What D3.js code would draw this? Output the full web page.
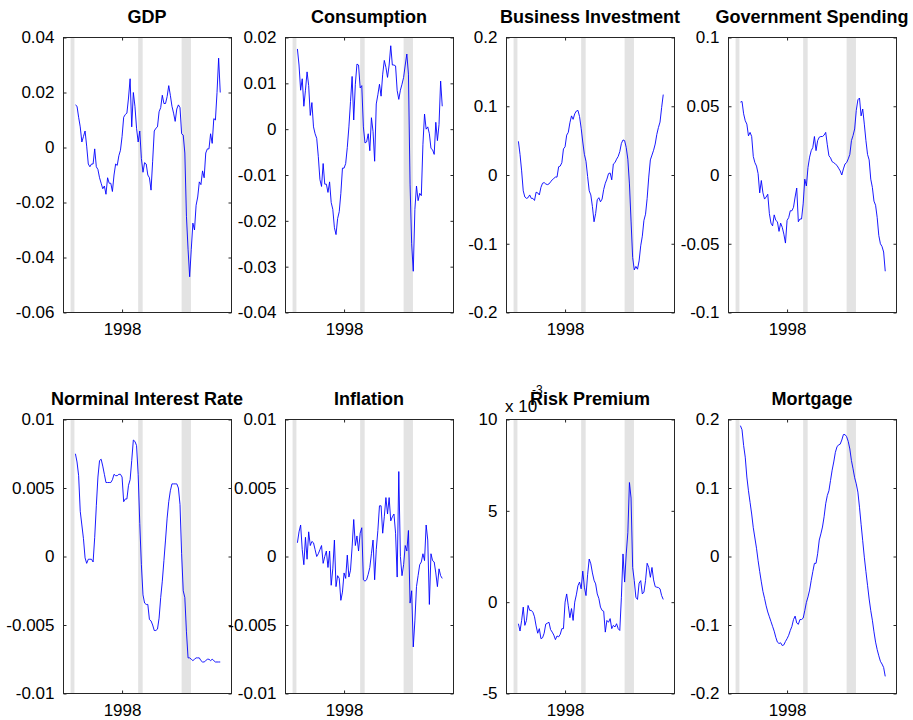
<!DOCTYPE html>
<html>
<head>
<meta charset="utf-8">
<script src="https://cdn.jsdelivr.net/npm/d3@7"></script>
<style>
  html, body { margin: 0; padding: 0; background: #ffffff; }
  svg { display: block; }
  text { font-family: "Liberation Sans", Arial, Helvetica, sans-serif; fill: #000; }
</style>
</head>
<body>
<svg id="fig" width="913" height="720"></svg>
<script>
// Quarterly sample: 1991Q2 .. 2013Q4 (91 observations)
const firstQuarter = 1991.25;
const nObs = 91;
const dates = d3.range(nObs).map(i => firstQuarter + 0.25 * i);

// NBER recession bands (decimal years)
const recessions = [[1990.5, 1991.1], [2001.0, 2001.7], [2007.75, 2009.2]];

// Shared time axis
const xDomain = [1989.4, 2015.5];
const xTickValues = [1998.5];
const xTickLabels = ["1998"];

// Series
const gdp = [0.0155,0.015,0.011,0.0075,0.002,0.004,0.006,0.0005,-0.006,-0.007,
  -0.006,-0.006,-0.0005,-0.007,-0.008,-0.011,-0.013,-0.015,-0.014,-0.017,
  -0.011,-0.013,-0.013,-0.016,-0.010,-0.006,-0.0065,-0.003,-0.001,0.004,
  0.011,0.012,0.0125,0.018,0.025,0.0075,0.020,0.015,0.007,0.002,
  0.006,-0.004,-0.009,-0.0055,-0.006,-0.010,-0.011,-0.0155,-0.005,0.006,
  0.007,0.0075,0.013,0.0145,0.019,0.016,0.016,0.0185,0.0225,0.019,
  0.015,0.0125,0.0095,0.014,0.0155,0.0145,0.005,0.0045,-0.002,-0.025,
  -0.037,-0.047,-0.037,-0.0275,-0.030,-0.021,-0.018,-0.0125,-0.0135,-0.0085,
  -0.011,-0.002,-0.0005,-0.0005,0.005,0.0015,0.0105,0.010,0.020,0.0325,0.020];

const consumption = [0.0175,0.014,0.0085,0.011,0.005,0.0085,0.0125,0.0095,0.003,0.0058,
  0.0005,-0.001,-0.002,-0.006,-0.011,-0.0125,-0.0075,-0.012,-0.012,-0.0138,
  -0.0115,-0.016,-0.0175,-0.0215,-0.023,-0.0195,-0.018,-0.014,-0.0085,-0.0085,
  -0.0075,-0.004,0.0005,0.006,0.0115,0.002,0.0098,0.0142,0.014,0.009,
  0.0095,0.0005,-0.003,-0.0028,-0.001,-0.0047,0.0025,-0.0005,-0.007,0.0055,
  0.0075,0.0098,0.0072,0.012,0.015,0.0135,0.0113,0.014,0.0182,0.014,
  0.014,0.0138,0.0084,0.0065,0.0085,0.0098,0.0113,0.014,0.0164,0.012,
  -0.012,-0.025,-0.031,-0.0175,-0.0124,-0.0156,-0.014,-0.0145,-0.0033,0.0033,
  0.0,0.0005,-0.001,-0.0042,-0.0045,-0.0055,0.0015,-0.0025,0.001,0.0105,0.005];

const investment = [0.049,0.03,0.006,-0.023,-0.032,-0.034,-0.033,-0.029,-0.034,-0.034,
  -0.037,-0.025,-0.026,-0.029,-0.018,-0.012,-0.011,-0.013,-0.014,-0.013,
  -0.010,-0.007,-0.005,-0.003,-0.003,0.012,0.013,0.018,0.038,0.041,
  0.058,0.062,0.076,0.086,0.081,0.089,0.093,0.094,0.085,0.068,
  0.048,0.030,0.020,-0.002,-0.023,-0.029,-0.046,-0.068,-0.056,-0.036,
  -0.033,-0.039,-0.035,-0.021,-0.012,-0.006,0.002,0.003,-0.007,0.016,
  0.018,0.023,0.027,0.034,0.046,0.051,0.050,0.040,0.023,-0.013,
  -0.067,-0.120,-0.138,-0.133,-0.137,-0.125,-0.103,-0.089,-0.066,-0.057,
  -0.034,-0.003,0.022,0.029,0.036,0.045,0.059,0.069,0.077,0.098,0.117];

const government = [0.053,0.0535,0.0445,0.0395,0.037,0.0285,0.031,0.028,0.0135,0.009,
  0.0065,0.001,-0.013,-0.004,-0.013,-0.0175,-0.016,-0.014,-0.028,-0.035,
  -0.037,-0.029,-0.033,-0.034,-0.041,-0.035,-0.038,-0.043,-0.0495,-0.033,
  -0.031,-0.026,-0.026,-0.0235,-0.016,-0.0095,-0.034,-0.032,-0.032,-0.021,
  -0.003,-0.008,0.0055,0.013,0.0177,0.020,0.028,0.0177,0.025,0.0275,
  0.028,0.028,0.029,0.031,0.022,0.014,0.0125,0.0097,0.009,0.008,
  0.007,0.005,0.003,0.0,0.0044,0.008,0.009,0.0117,0.015,0.025,
  0.0287,0.0335,0.047,0.0547,0.056,0.043,0.048,0.037,0.025,0.015,
  0.011,-0.003,-0.009,-0.019,-0.022,-0.031,-0.044,-0.050,-0.052,-0.056,-0.070];

const interestRate = [0.0075,0.0069,0.0059,0.0033,0.0023,0.0013,-0.0001,-0.0005,-0.0002,-0.0002,
  -0.0002,-0.0004,0.0014,0.0037,0.0058,0.0070,0.0071,0.0066,0.0060,0.0054,
  0.0054,0.0054,0.0054,0.0056,0.0060,0.0059,0.0059,0.0060,0.0060,0.0058,
  0.0040,0.0042,0.0042,0.0052,0.0056,0.0070,0.0085,0.0084,0.0081,0.0060,
  0.0024,-0.0006,-0.0028,-0.0034,-0.0035,-0.0035,-0.0046,-0.0047,-0.0050,-0.0054,
  -0.0054,-0.0053,-0.0045,-0.0030,-0.0018,-0.0003,0.0012,0.0028,0.0040,0.0048,
  0.0053,0.0053,0.0053,0.0053,0.0050,0.0038,0.0002,-0.0025,-0.0030,-0.0055,
  -0.0074,-0.0074,-0.0075,-0.0076,-0.0075,-0.0074,-0.0074,-0.0074,-0.0076,-0.0077,
  -0.0077,-0.0076,-0.0075,-0.0075,-0.0076,-0.0075,-0.0076,-0.0077,-0.0077,-0.0077,-0.0077];

const inflation = [0.0010,0.0018,0.0023,0.0005,-0.0006,0.0014,-0.0002,0.0018,0.0008,0.0011,
  0.0010,0.0005,0.0,0.0002,0.0005,0.0008,-0.0005,0.0,0.0004,-0.0008,
  0.0004,-0.0021,-0.0009,0.0012,-0.0022,-0.0014,-0.0016,-0.0032,-0.0026,-0.0012,
  -0.0016,0.0001,-0.0015,-0.0010,0.0007,0.0027,0.0008,0.0015,0.0004,0.0017,
  0.0021,-0.0017,-0.0018,-0.0017,-0.0013,-0.0008,0.0002,0.0012,-0.0017,0.0005,
  0.0019,0.0037,0.0037,0.0017,0.0029,0.0043,0.0031,0.0043,0.0026,0.0029,
  0.0031,0.0017,-0.0015,0.0062,0.0,-0.0014,-0.0006,0.0008,0.0004,0.0019,
  -0.0034,-0.0025,-0.0066,-0.0047,-0.0022,-0.0014,-0.0006,-0.0004,0.0002,-0.0003,
  0.0023,0.0012,-0.0035,0.0002,-0.0003,-0.0004,-0.0012,-0.0022,-0.0009,-0.0014,-0.0016];

// Risk premium, in units of 10^-3
const riskPremium = [-1.18,-1.58,-1.0,-0.27,-1.27,-1.0,-0.18,-0.45,-0.45,-0.55,
  -0.8,-1.3,-1.7,-1.45,-2.0,-1.95,-1.7,-1.2,-1.15,-1.1,
  -1.5,-1.64,-1.8,-2.05,-1.85,-1.9,-1.76,-1.45,-1.45,0.0,
  0.45,-0.2,-0.85,-0.35,-1.0,0.0,0.4,0.9,1.1,0.73,
  1.7,0.82,0.36,1.5,2.36,2.1,1.6,1.2,1.0,0.45,
  0.2,-0.27,-0.45,-0.5,-1.64,-1.0,-1.1,-0.9,-1.45,-1.27,
  -1.36,-1.18,-1.45,-1.55,0.27,2.64,1.1,2.64,3.8,6.55,
  5.7,1.9,1.18,0.27,0.15,1.04,1.18,0.45,0.55,1.18,
  2.13,1.9,1.36,1.9,1.22,0.85,0.82,0.8,0.73,0.36,0.15];

const mortgage = [0.191,0.185,0.162,0.145,0.116,0.096,0.079,0.062,0.042,0.027,
  0.012,-0.006,-0.022,-0.037,-0.051,-0.061,-0.072,-0.081,-0.088,-0.095,
  -0.102,-0.109,-0.118,-0.125,-0.127,-0.126,-0.130,-0.129,-0.124,-0.120,
  -0.115,-0.108,-0.102,-0.092,-0.087,-0.097,-0.099,-0.092,-0.092,-0.090,
  -0.079,-0.067,-0.059,-0.049,-0.035,-0.022,-0.010,-0.010,0.004,0.024,
  0.033,0.043,0.058,0.077,0.089,0.096,0.111,0.126,0.138,0.152,
  0.160,0.163,0.164,0.170,0.178,0.178,0.175,0.168,0.157,0.140,
  0.128,0.115,0.106,0.094,0.072,0.047,0.023,-0.001,-0.022,-0.042,
  -0.062,-0.079,-0.093,-0.110,-0.125,-0.136,-0.145,-0.153,-0.157,-0.162,-0.175];

// Panel titles, y ranges and tick labels
const titles = ["GDP", "Consumption", "Business Investment", "Government Spending",
  "Norminal Interest Rate", "Inflation", "Risk Premium", "Mortgage"];
const seriesList = [gdp, consumption, investment, government,
  interestRate, inflation, riskPremium, mortgage];
const yDomains = [[-0.06, 0.04], [-0.04, 0.02], [-0.2, 0.2], [-0.1, 0.1],
  [-0.01, 0.01], [-0.01, 0.01], [-5, 10], [-0.2, 0.2]];
const yTickValues = [
  [-0.06, -0.04, -0.02, 0, 0.02, 0.04],
  [-0.04, -0.03, -0.02, -0.01, 0, 0.01, 0.02],
  [-0.2, -0.1, 0, 0.1, 0.2],
  [-0.1, -0.05, 0, 0.05, 0.1],
  [-0.01, -0.005, 0, 0.005, 0.01],
  [-0.01, -0.005, 0, 0.005, 0.01],
  [-5, 0, 5, 10],
  [-0.2, -0.1, 0, 0.1, 0.2]
];
const yTickLabels = [
  ["-0.06", "-0.04", "-0.02", "0", "0.02", "0.04"],
  ["-0.04", "-0.03", "-0.02", "-0.01", "0", "0.01", "0.02"],
  ["-0.2", "-0.1", "0", "0.1", "0.2"],
  ["-0.1", "-0.05", "0", "0.05", "0.1"],
  ["-0.01", "-0.005", "0", "0.005", "0.01"],
  ["-0.01", "-0.005", "0", "0.005", "0.01"],
  ["-5", "0", "5", "10"],
  ["-0.2", "-0.1", "0", "0.1", "0.2"]
];
const exponentLabels = [null, null, null, null, null, null, "-3", null];

// Figure layout (2 rows x 4 columns)
const colLeft = [63, 285, 506, 728];
const rowTop = [37, 419];
const rowHeight = [275, 274];
const axW = 168;
const tickLen = 3;

const svg = d3.select("#fig");

titles.forEach((title, k) => {
  const row = Math.floor(k / 4), col = k % 4;
  const left = colLeft[col] + 0.5, top = rowTop[row] + 0.5;
  const h = rowHeight[row];

  const x = d3.scaleLinear().domain(xDomain).range([0, axW]);
  const y = d3.scaleLinear().domain(yDomains[k]).range([h, 0]);

  const g = svg.append("g").attr("transform", `translate(${left},${top})`);

  // recession shading
  g.selectAll("rect.rec").data(recessions).enter().append("rect")
    .attr("class", "rec")
    .attr("x", d => x(d[0]))
    .attr("width", d => x(d[1]) - x(d[0]))
    .attr("y", 0).attr("height", h)
    .attr("fill", "#e3e3e3");

  // series line
  const line = d3.line().x((d, i) => x(dates[i])).y(d => y(d));
  g.append("path").datum(seriesList[k])
    .attr("d", line)
    .attr("fill", "none")
    .attr("stroke", "#0000ff")
    .attr("stroke-width", 0.9)
    .attr("stroke-linejoin", "round");

  // y axis (left, ticks pointing inward) and mirrored right ticks
  const yAxis = d3.axisLeft(y).tickValues(yTickValues[k])
    .tickFormat((d, i) => yTickLabels[k][i])
    .tickSizeInner(-tickLen).tickSizeOuter(0).tickPadding(9);
  const ya = g.append("g").call(yAxis);
  ya.select(".domain").remove();
  ya.selectAll("line").attr("stroke", "#262626");
  ya.selectAll("text").attr("font-size", 17).attr("fill", "#000");

  const yR = d3.axisRight(y).tickValues(yTickValues[k]).tickFormat("")
    .tickSizeInner(-tickLen).tickSizeOuter(0);
  const yr = g.append("g").attr("transform", `translate(${axW},0)`).call(yR);
  yr.select(".domain").remove();
  yr.selectAll("line").attr("stroke", "#262626");

  // x axis (bottom and top)
  const xAxis = d3.axisBottom(x).tickValues(xTickValues)
    .tickFormat((d, i) => xTickLabels[i])
    .tickSizeInner(-tickLen).tickSizeOuter(0).tickPadding(10);
  const xa = g.append("g").attr("transform", `translate(0,${h})`).call(xAxis);
  xa.select(".domain").remove();
  xa.selectAll("line").attr("stroke", "#262626");
  xa.selectAll("text").attr("font-size", 17).attr("fill", "#000");

  const xT = d3.axisTop(x).tickValues(xTickValues).tickFormat("")
    .tickSizeInner(-tickLen).tickSizeOuter(0);
  const xt = g.append("g").call(xT);
  xt.select(".domain").remove();
  xt.selectAll("line").attr("stroke", "#262626");

  // box
  g.append("rect").attr("x", 0).attr("y", 0).attr("width", axW).attr("height", h)
    .attr("fill", "none").attr("stroke", "#262626").attr("stroke-width", 1);

  // exponent multiplier
  if (exponentLabels[k]) {
    svg.append("text").attr("x", colLeft[col] - 1).attr("y", rowTop[row] - 7)
      .attr("font-size", 17).text("x 10");
    svg.append("text").attr("x", colLeft[col] + 26).attr("y", rowTop[row] - 25)
      .attr("font-size", 12).text(exponentLabels[k]);
  }

  // title
  svg.append("text")
    .attr("x", colLeft[col] + axW / 2)
    .attr("y", rowTop[row] - 14)
    .attr("text-anchor", "middle")
    .attr("font-size", 18).attr("font-weight", "bold")
    .text(title);
});
</script>
</body>
</html>
